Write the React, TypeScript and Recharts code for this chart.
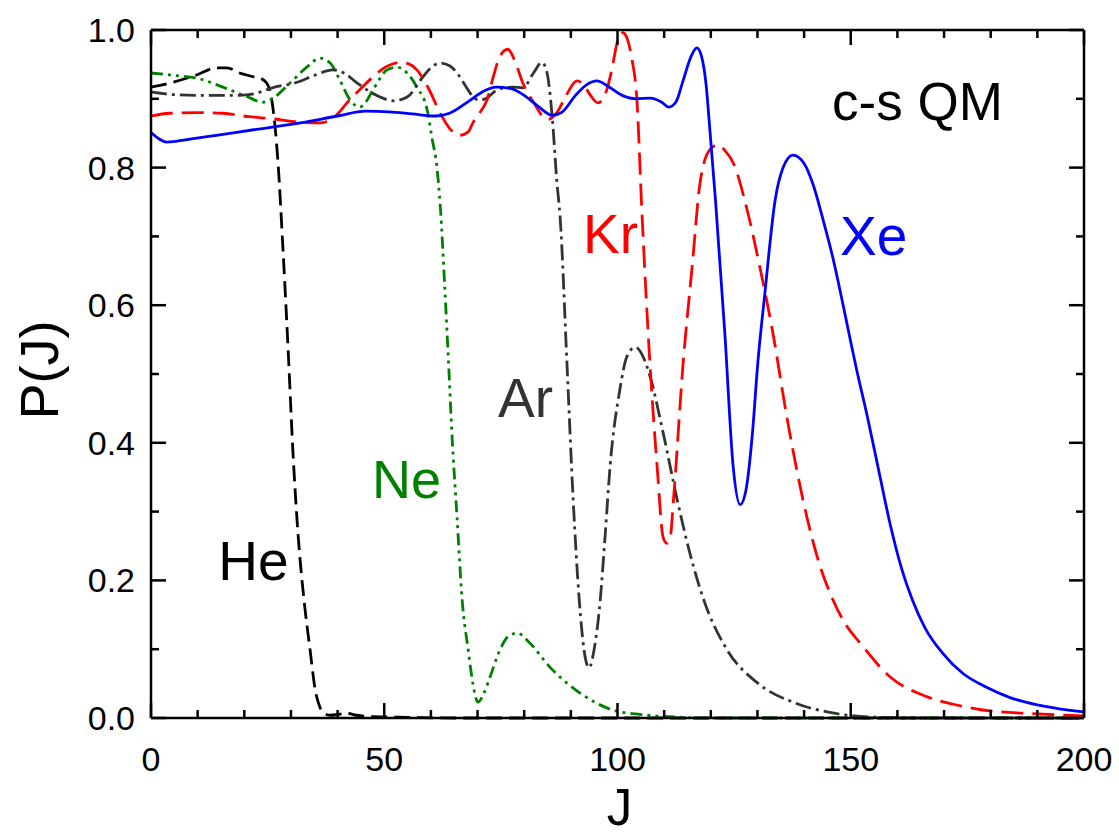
import { LineChart, Line, XAxis, YAxis, ReferenceDot, Label } from 'recharts'

// P(J) curves, [J, P]
const he: [number, number][] = [
  [0, 0.917], [4.7, 0.924], [9.9, 0.935], [14.1, 0.945], [16.3, 0.945], [19, 0.9375],
  [22, 0.932], [23.4, 0.93], [24.8, 0.923], [25.9, 0.898], [26.6, 0.859], [27.2, 0.81],
  [28.3, 0.68], [29.4, 0.535], [30.4, 0.39], [31.5, 0.269], [32.8, 0.1715], [34.1, 0.099],
  [35.2, 0.041], [36.2, 0.016], [37.3, 0.006], [38.4, 0.004], [40, 0.005], [42, 0.007],
  [44, 0.004], [47.6, 0.002], [55, 0.001], [65, 0], [200, 0],
]

const ne: [number, number][] = [
  [0, 0.9375], [5, 0.934], [9.9, 0.93], [15.4, 0.917], [20.6, 0.903], [24, 0.895],
  [26.2, 0.901], [29.8, 0.923], [33.4, 0.946], [36.2, 0.959], [38.4, 0.952], [40.5, 0.927],
  [42.7, 0.898], [44.8, 0.888], [46, 0.895], [47.6, 0.913], [50.6, 0.942], [52.7, 0.946],
  [54.9, 0.9375], [57, 0.917], [59.2, 0.884], [60.2, 0.844], [61.3, 0.8], [62, 0.745],
  [63, 0.622], [63.9, 0.5], [64.5, 0.414], [65.6, 0.292], [66.7, 0.1715], [68, 0.099],
  [69, 0.05], [70.1, 0.023], [71.3, 0.035], [72.7, 0.06], [74.8, 0.099], [76.5, 0.118],
  [78.5, 0.1235], [81.2, 0.109], [85.5, 0.074], [91, 0.041], [98.8, 0.012], [105, 0.005],
  [111, 0.002], [120, 0], [200, 0],
]

const ar: [number, number][] = [
  [0, 0.91], [5, 0.906], [12, 0.905], [19, 0.905], [22, 0.907], [26, 0.916], [31.3, 0.924],
  [35, 0.934], [39, 0.942], [41.5, 0.937], [44, 0.924], [47, 0.91], [49, 0.903], [52, 0.897],
  [55, 0.903], [58.3, 0.932], [60, 0.945], [62, 0.952], [64, 0.948], [65.6, 0.9375],
  [67.5, 0.918], [69, 0.903], [70.5, 0.898], [72, 0.901], [74.2, 0.913], [77.6, 0.917],
  [79.7, 0.916], [82, 0.9375], [83.8, 0.953], [84.9, 0.9375], [86, 0.874], [87, 0.78],
  [87.7, 0.728], [89.2, 0.51], [90.5, 0.317], [91.8, 0.1715], [92.8, 0.1], [93.9, 0.073],
  [95, 0.1], [96.3, 0.1715], [97.4, 0.27], [98.4, 0.365], [100.5, 0.477], [102, 0.525],
  [103.8, 0.539], [105.5, 0.525], [107, 0.496], [109.8, 0.414], [112.8, 0.317], [115.5, 0.24],
  [118.5, 0.1715], [123.5, 0.099], [130, 0.051], [138, 0.022], [146.4, 0.007], [154.3, 0.0015],
  [165, 0], [200, 0],
]

const kr: [number, number][] = [
  [0, 0.875], [4, 0.879], [10, 0.88], [15.4, 0.879], [21, 0.874], [26, 0.871], [32, 0.866],
  [36, 0.865], [38.4, 0.869], [40, 0.878], [42, 0.894], [45, 0.915], [47.6, 0.932],
  [50.5, 0.947], [53.4, 0.953], [55.5, 0.95], [57, 0.942], [59.5, 0.915], [62, 0.879],
  [64, 0.857], [66.2, 0.847], [68, 0.852], [69, 0.865], [70.5, 0.88], [72, 0.898],
  [73.5, 0.935], [74.8, 0.962], [76.5, 0.972], [78, 0.955], [79.7, 0.923], [82, 0.895],
  [85, 0.87], [87, 0.88], [89, 0.905], [91.3, 0.926], [93, 0.918], [94.1, 0.906], [95.8, 0.894],
  [97.7, 0.913], [99, 0.95], [99.9, 0.981], [101.2, 0.996], [102.2, 0.985], [103, 0.961],
  [104.2, 0.894], [105.2, 0.74], [107, 0.51], [108.5, 0.365], [109.8, 0.262], [110.6, 0.254],
  [111.3, 0.262], [112, 0.317], [114, 0.51], [116, 0.656], [117.7, 0.778], [119.8, 0.826],
  [121.5, 0.833], [123, 0.825], [124.8, 0.807], [127.8, 0.738], [130.5, 0.656], [133.3, 0.56],
  [136.3, 0.4375], [140.6, 0.292], [143, 0.23], [146.2, 0.1715], [149, 0.135], [152, 0.109],
  [158.4, 0.06], [166.3, 0.031], [172, 0.02], [178, 0.012], [190, 0.006], [200, 0.003],
]

const xe: [number, number][] = [
  [0, 0.851], [3.5, 0.837], [8, 0.841], [14, 0.847], [22, 0.855], [32, 0.865], [40, 0.875],
  [46, 0.882], [51, 0.881], [56, 0.878], [61, 0.875], [64, 0.879], [68, 0.896], [71, 0.91],
  [74, 0.917], [77, 0.915], [80, 0.905], [83, 0.889], [86, 0.876], [88, 0.88], [91, 0.905],
  [93.5, 0.921], [95.6, 0.926], [98, 0.918], [101, 0.905], [104, 0.9], [107, 0.901],
  [109.5, 0.895], [111, 0.888], [112.5, 0.895], [114, 0.925], [115.8, 0.962], [117, 0.974],
  [118, 0.962], [119, 0.92], [119.8, 0.855], [121, 0.753], [123, 0.56], [124.8, 0.365],
  [126.3, 0.31], [127.5, 0.33], [129, 0.42], [130, 0.51], [131.6, 0.618], [133.8, 0.753],
  [135.5, 0.8], [137.6, 0.818], [140, 0.806], [142, 0.774], [144, 0.726], [146.2, 0.668],
  [148, 0.612], [149.8, 0.553], [151.3, 0.505], [153.5, 0.44], [156.3, 0.35],
  [158.4, 0.283], [161, 0.215], [163.2, 0.172], [166, 0.13], [169.6, 0.095], [174, 0.065],
  [179, 0.045], [184, 0.03], [190, 0.019], [195, 0.013], [200, 0.009],
]

const xTicks = [0, 10, 20, 30, 40, 50, 60, 70, 80, 90, 100, 110, 120, 130, 140, 150, 160, 170, 180, 190, 200]
const yTicks = [0, 0.1, 0.2, 0.3, 0.4, 0.5, 0.6, 0.7, 0.8, 0.9, 1.0]

const notes = [
  { text: 'He', j: 14.4, p: 0.2, color: '#000000', size: 55 },
  { text: 'Ne', j: 47.4, p: 0.32, color: '#008000', size: 54 },
  { text: 'Ar', j: 74.4, p: 0.4375, color: '#333333', size: 55 },
  { text: 'Kr', j: 92.6, p: 0.676, color: '#ff0000', size: 55 },
  { text: 'Xe', j: 147.7, p: 0.673, color: '#0000ff', size: 55 },
  { text: 'c-s QM', j: 146, p: 0.869, color: '#000000', size: 53 },
]

const FONT = '"Liberation Sans", Arial, Helvetica, sans-serif'
const toRows = (pts: [number, number][]) => pts.map(([j, p]) => ({ j, p }))

const isMajorX = (v: number) => v % 50 === 0
const isMajorY = (v: number) => Math.round(v * 10) % 2 === 0

const BottomTick = ({ x, y, payload }: any) => {
  const major = isMajorX(payload.value)
  return (
    <g>
      <line x1={x} x2={x} y1={y} y2={y - (major ? 15 : 8)} stroke="#000" strokeWidth={2.5} />
      {major && (
        <text x={x} y={y + 53} textAnchor="middle" fontSize={34} fontFamily={FONT} fill="#000">
          {payload.value}
        </text>
      )}
    </g>
  )
}

const TopTick = ({ x, y, payload }: any) => (
  <line x1={x} x2={x} y1={y} y2={y + (isMajorX(payload.value) ? 15 : 8)} stroke="#000" strokeWidth={2.5} />
)

const LeftTick = ({ x, y, payload }: any) => {
  const major = isMajorY(payload.value)
  return (
    <g>
      <line x1={x} x2={x + (major ? 15 : 8)} y1={y} y2={y} stroke="#000" strokeWidth={2.5} />
      {major && (
        <text x={x - 16} y={y + 12} textAnchor="end" fontSize={34} fontFamily={FONT} fill="#000">
          {payload.value.toFixed(1)}
        </text>
      )}
    </g>
  )
}

const RightTick = ({ x, y, payload }: any) => (
  <line x1={x} x2={x - (isMajorY(payload.value) ? 15 : 8)} y1={y} y2={y} stroke="#000" strokeWidth={2.5} />
)

const axisLine = { stroke: '#000', strokeWidth: 2.5 }

export default function App() {
  return (
    <div style={{ position: 'absolute', left: 0, top: 0, width: 1119, height: 838, background: '#fff' }}>
      <LineChart width={1119} height={838} margin={{ top: 0, right: 0, bottom: 0, left: 0 }}>
        <XAxis
          dataKey="j"
          type="number"
          domain={[0, 200]}
          ticks={xTicks}
          interval={0}
          height={120}
          tickSize={0}
          tickMargin={0}
          tickLine={false}
          axisLine={axisLine}
          tick={BottomTick}
        >
          <Label
            content={({ viewBox }: any) => (
              <text
                x={viewBox.x + viewBox.width / 2 + 2}
                y={825}
                textAnchor="middle"
                fontSize={51}
                fontFamily={FONT}
                fill="#000"
              >
                J
              </text>
            )}
          />
        </XAxis>
        <XAxis
          xAxisId="top"
          dataKey="j"
          orientation="top"
          type="number"
          domain={[0, 200]}
          ticks={xTicks}
          interval={0}
          height={30}
          tickSize={0}
          tickMargin={0}
          tickLine={false}
          axisLine={axisLine}
          tick={TopTick}
        />
        <YAxis
          type="number"
          domain={[0, 1]}
          ticks={yTicks}
          interval={0}
          width={151}
          tickSize={0}
          tickMargin={0}
          tickLine={false}
          axisLine={axisLine}
          tick={LeftTick}
        >
          <Label
            content={({ viewBox }: any) => {
              const cy = viewBox.y + viewBox.height / 2 - 4
              return (
                <text
                  x={58}
                  y={cy}
                  transform={`rotate(-90, 58, ${cy})`}
                  textAnchor="middle"
                  fontSize={54}
                  fontFamily={FONT}
                  fill="#000"
                >
                  P(J)
                </text>
              )
            }}
          />
        </YAxis>
        <YAxis
          yAxisId="right"
          orientation="right"
          type="number"
          domain={[0, 1]}
          ticks={yTicks}
          interval={0}
          width={35}
          tickSize={0}
          tickMargin={0}
          tickLine={false}
          axisLine={axisLine}
          tick={RightTick}
        />

        {/* invisible copy so the mirrored top/right frame axes get drawn */}
        <Line data={toRows(he)} dataKey="p" xAxisId="top" yAxisId="right" stroke="none"
          strokeWidth={0} dot={false} activeDot={false} legendType="none" isAnimationActive={false} />

        <Line data={toRows(he)} dataKey="p" type="monotone" stroke="#000000" strokeWidth={2.8}
          strokeDasharray="16 7" dot={false} isAnimationActive={false} />
        <Line data={toRows(ne)} dataKey="p" type="monotone" stroke="#008000" strokeWidth={2.8}
          strokeDasharray="12 5 3 5 3 5" dot={false} isAnimationActive={false} />
        <Line data={toRows(ar)} dataKey="p" type="monotone" stroke="#333333" strokeWidth={2.8}
          strokeDasharray="16 5 3 5" dot={false} isAnimationActive={false} />
        <Line data={toRows(kr)} dataKey="p" type="monotone" stroke="#ff0000" strokeWidth={2.8}
          strokeDasharray="22 9" dot={false} isAnimationActive={false} />
        <Line data={toRows(xe)} dataKey="p" type="monotone" stroke="#0000ff" strokeWidth={2.8}
          dot={false} isAnimationActive={false} />

        {notes.map((n) => (
          <ReferenceDot
            key={n.text}
            x={n.j}
            y={n.p}
            r={0}
            fill="none"
            stroke="none"
            label={({ viewBox }: any) => (
              <text x={viewBox.x} y={viewBox.y} fontSize={n.size} fontFamily={FONT} fill={n.color}>
                {n.text}
              </text>
            )}
          />
        ))}
      </LineChart>
    </div>
  )
}
